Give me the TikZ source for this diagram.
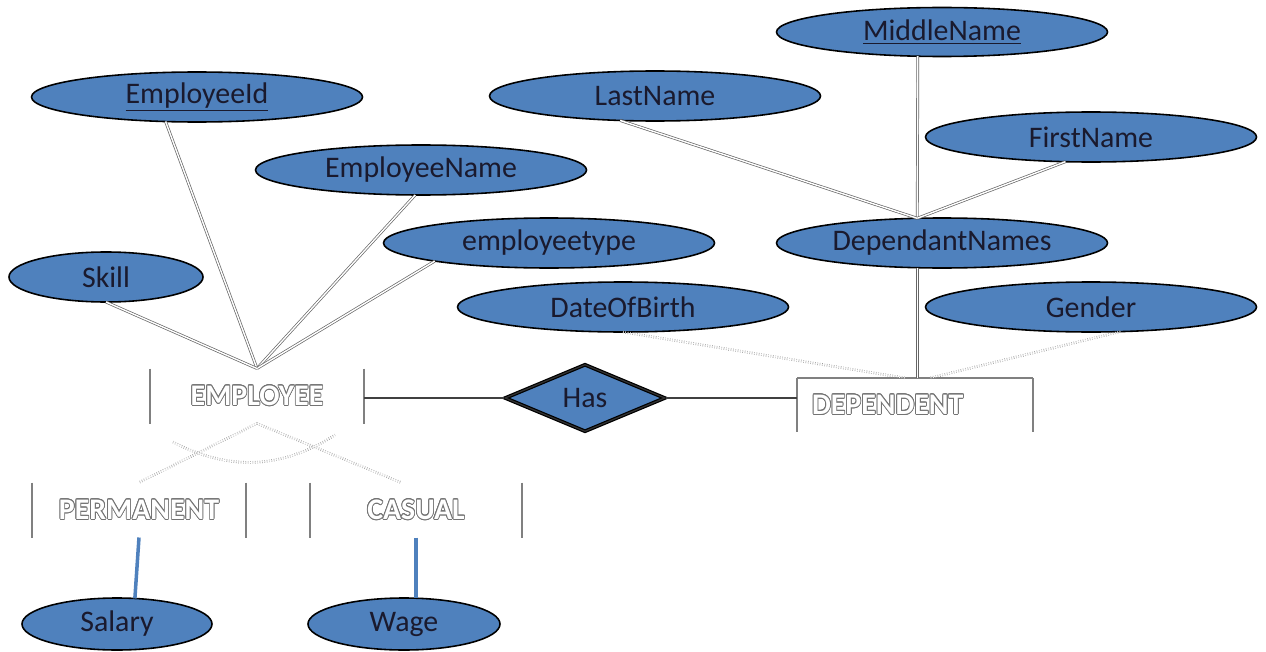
\documentclass[tikz,border=0pt]{standalone}
\usepackage{fontspec}
\setmainfont{Carlito}
\usepackage{xcolor}
\usepackage[copies]{contour}
\contourlength{0.45pt}
\usepackage{tikz}
\usetikzlibrary{
	shapes.geometric,
	positioning,
	}
\definecolor{attrblue}{HTML}{4F81BD}
\definecolor{attrtext}{HTML}{1A1A2E}
\newcommand{\entname}[1]{\contour{black!55}{\textcolor{white}{#1}}}

\begin{document}
\begin{tikzpicture}[attr/.style={draw=black,line width=0.9pt,fill=attrblue,text=attrtext,shape=ellipse,minimum width=6.62cm,minimum height=1cm,inner sep=0pt,outer sep=0pt,font=\fontsize{17}{20}\selectfont},
ent/.style={shape=rectangle,minimum width=4.28cm,minimum height=1.1cm,inner sep=0pt,outer sep=0pt,font=\bfseries\fontsize{17}{20}\selectfont},
boxside/.style={draw=black!50,line width=1.1pt},
attrline/.style={draw=black!60,double=white,double distance=0.8pt,line width=0.4pt},
faint/.style={draw=black!45,densely dotted,double=white,double distance=0.8pt,line width=0.35pt},
rel/.style={draw=black!75,line width=0.8pt}]
\useasboundingbox (0,0) rectangle (25.32,-13.02);
% employee side
\node[attr] (eid) at (3.94,-1.94) {\underline{EmployeeId}};
\node[attr] (ename) at (8.42,-3.40) {EmployeeName};
\node[attr] (etype) at (10.98,-4.86) {employeetype};
\node[attr,minimum width=3.88cm] (skill) at (2.12,-5.54) {Skill};
\node[ent] (emp) at (5.14,-7.92) {\entname{EMPLOYEE}};
\node[ent] (perm) at (2.78,-10.20) {\entname{PERMANENT}};
\node[ent,minimum width=4.24cm] (cas) at (8.32,-10.20) {\entname{CASUAL}};
\node[attr,minimum width=3.8cm,minimum height=1.04cm] (sal) at (2.34,-12.48) {Salary};
\node[attr,minimum width=3.84cm,minimum height=1.04cm] (wage) at (8.08,-12.48) {Wage};
% dependent side
\node[attr] (lname) at (13.10,-1.92) {LastName};
\node[attr,minimum height=0.98cm] (mname) at (18.84,-0.64) {\underline{MiddleName}};
\node[attr] (fname) at (21.82,-2.74) {FirstName};
\node[attr] (dnames) at (18.84,-4.86) {DependantNames};
\node[attr] (dob) at (12.46,-6.14) {DateOfBirth};
\node[attr] (gender) at (21.82,-6.14) {Gender};
\node[ent,minimum width=4.72cm,minimum height=1.08cm,text width=4.12cm,align=left] (dep) at (18.30,-8.10) {\entname{DEPENDENT}};
\node[shape=diamond,draw=black,line width=0.7pt,double=black!80,double distance=0.7pt,fill=attrblue,text=attrtext,minimum width=3.2cm,minimum height=1.34cm,inner sep=0pt,font=\fontsize{17}{20}\selectfont] (has) at (11.70,-7.96) {Has};

% entity boxes
\foreach \e in {emp,perm,cas,dep}{
	\draw[boxside] (\e.north west) -- (\e.south west);
	\draw[boxside] (\e.north east) -- (\e.south east);
}
\draw[boxside] (dep.north west) -- (dep.north east);

\draw[attrline] (eid.-142) -- (emp.north);
\draw[attrline] (ename.-103) -- (emp.north);
\draw[attrline] (etype.-171) -- (emp.north);
\draw[attrline] (skill.south) -- (emp.north);
\draw[faint] (emp.south) -- (perm.north);
\draw[faint] (emp.south) -- ([xshift=-0.3cm]cas.north);
\draw[faint] (3.46,-8.84) to[bend right=30] (6.70,-8.70);
\draw[draw=attrblue,line width=2pt] (perm.south) -- (sal.55);
\draw[draw=attrblue,line width=2pt] (cas.south) -- (cas.south |- wage.north);

\draw[rel] (emp.east |- has) -- (has);
\draw[rel] (has) -- (dep.west |- has);

\draw[attrline] (mname.-135) -- (dnames.135);
\draw[attrline] (lname.-145) -- (dnames.135);
\draw[attrline] (fname.-136) -- (dnames.135);
\draw[attrline] (dnames.-135) -- (dnames.-135 |- dep.north);
\draw[faint] (dob.south) -- ([xshift=-0.2cm]dep.north);
\draw[faint] (gender.-40) -- ([xshift=0.3cm]dep.north);
\end{tikzpicture}
\end{document}
